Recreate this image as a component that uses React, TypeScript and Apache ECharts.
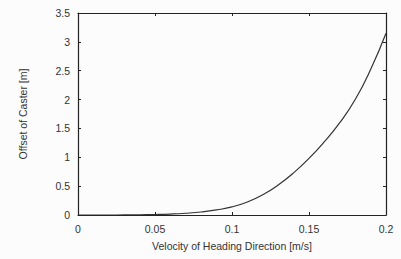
import React, { useEffect, useRef } from "react";
import * as echarts from "echarts";

const velocity = [0, 0.01, 0.02, 0.03, 0.04, 0.05, 0.06, 0.07, 0.08, 0.09, 0.1, 0.11, 0.12, 0.13, 0.14, 0.15, 0.16, 0.17, 0.18, 0.19, 0.2];
const offset = [0, 0, 0, 0.001, 0.003, 0.008, 0.016, 0.03, 0.052, 0.088, 0.14, 0.225, 0.35, 0.52, 0.73, 0.98, 1.27, 1.6, 2.0, 2.52, 3.15];
const xTicks = [0, 0.05, 0.1, 0.15, 0.2];
const yTicks = [0, 0.5, 1, 1.5, 2, 2.5, 3, 3.5];

const xLabel = "Velocity of Heading Direction [m/s]";
const yLabel = "Offset of Caster [m]";

export default function App() {
  const ref = useRef<HTMLDivElement>(null);
  useEffect(() => {
    if (!ref.current) return;
    const chart = echarts.init(ref.current, undefined, { renderer: "svg" });
    const font = "Liberation Sans, Arial, sans-serif";
    const axisLine = { show: true, onZero: false, lineStyle: { color: "#222", width: 1.2 } };
    const tick = { show: true, inside: true, length: 3, lineStyle: { color: "#222" } };
    chart.setOption({
      animation: false,
      backgroundColor: "#fcfcfc",
      grid: { left: 78, right: 15, top: 13, bottom: 44 },
      xAxis: [
        {
          type: "value",
          min: 0,
          max: 0.2,
          interval: 0.05,
          axisLine,
          axisTick: tick,
          splitLine: { show: false },
          axisLabel: {
            color: "#333",
            fontSize: 10.5,
            fontFamily: font,
            margin: 8,
            formatter: (v: number) => (xTicks.includes(+v.toFixed(2)) ? String(+v.toFixed(2)) : ""),
          },
          name: xLabel,
          nameLocation: "middle",
          nameGap: 25,
          nameTextStyle: { color: "#333", fontSize: 10.5, fontFamily: font },
        },
        {
          type: "value",
          position: "top",
          min: 0,
          max: 0.2,
          interval: 0.05,
          axisLine,
          axisTick: tick,
          axisLabel: { show: false },
          splitLine: { show: false },
        },
      ],
      yAxis: [
        {
          type: "value",
          min: 0,
          max: 3.5,
          interval: 0.5,
          axisLine,
          axisTick: tick,
          splitLine: { show: false },
          axisLabel: {
            color: "#333",
            fontSize: 10.5,
            fontFamily: font,
            margin: 8,
            formatter: (v: number) => (yTicks.includes(+v.toFixed(1)) ? String(+v.toFixed(1)) : ""),
          },
          name: yLabel,
          nameLocation: "middle",
          nameGap: 50,
          nameTextStyle: { color: "#333", fontSize: 10.5, fontFamily: font },
        },
        {
          type: "value",
          position: "right",
          min: 0,
          max: 3.5,
          interval: 0.5,
          axisLine,
          axisTick: tick,
          axisLabel: { show: false },
          splitLine: { show: false },
        },
      ],
      series: [
        {
          type: "line",
          data: velocity.map((v, i) => [v, offset[i]]),
          showSymbol: false,
          smooth: true,
          lineStyle: { color: "#333", width: 1.2 },
        },
      ],
    });
    return () => chart.dispose();
  }, []);
  return <div ref={ref} style={{ width: 401, height: 259, position: "absolute", left: 0, top: 0 }} />;
}
